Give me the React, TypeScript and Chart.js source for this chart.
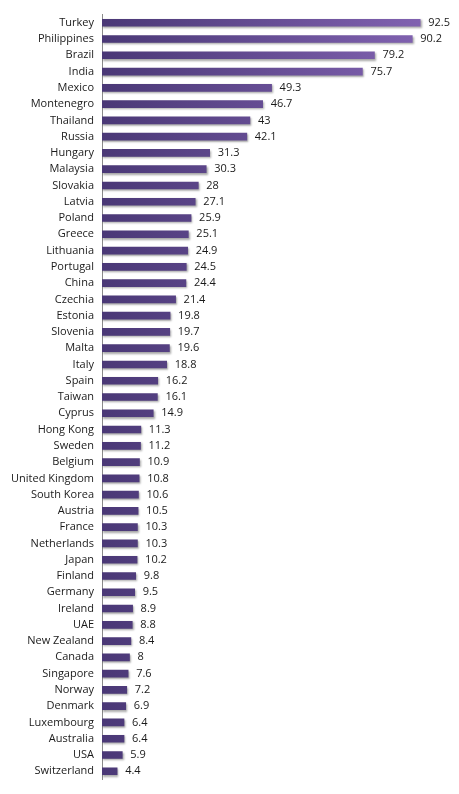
import React, { useEffect, useRef } from "react";
import { Chart, registerables } from "chart.js";

Chart.register(...registerables);

const countries = [
  "Turkey", "Philippines", "Brazil", "India", "Mexico", "Montenegro", "Thailand", "Russia",
  "Hungary", "Malaysia", "Slovakia", "Latvia", "Poland", "Greece", "Lithuania", "Portugal",
  "China", "Czechia", "Estonia", "Slovenia", "Malta", "Italy", "Spain", "Taiwan", "Cyprus",
  "Hong Kong", "Sweden", "Belgium", "United Kingdom", "South Korea", "Austria", "France",
  "Netherlands", "Japan", "Finland", "Germany", "Ireland", "UAE", "New Zealand", "Canada",
  "Singapore", "Norway", "Denmark", "Luxembourg", "Australia", "USA", "Switzerland",
];

const values = [
  92.5, 90.2, 79.2, 75.7, 49.3, 46.7, 43, 42.1,
  31.3, 30.3, 28, 27.1, 25.9, 25.1, 24.9, 24.5,
  24.4, 21.4, 19.8, 19.7, 19.6, 18.8, 16.2, 16.1, 14.9,
  11.3, 11.2, 10.9, 10.8, 10.6, 10.5, 10.3,
  10.3, 10.2, 9.8, 9.5, 8.9, 8.8, 8.4, 8,
  7.6, 7.2, 6.9, 6.4, 6.4, 5.9, 4.4,
];

const FONT = "'Open Sans', sans-serif";

const valueLabels = {
  id: "valueLabels",
  afterDatasetsDraw(chart: any) {
    const { ctx } = chart;
    const meta = chart.getDatasetMeta(0);
    ctx.save();
    ctx.font = `11px ${FONT}`;
    ctx.fillStyle = "#1a1a1a";
    ctx.textBaseline = "middle";
    ctx.textAlign = "left";
    meta.data.forEach((bar: any, i: number) => {
      ctx.fillText(String(values[i]), bar.x + 8, bar.y);
    });
    ctx.restore();
  },
};

const barShadow = {
  id: "barShadow",
  beforeDatasetDraw(chart: any) {
    const { ctx } = chart;
    ctx.save();
    ctx.shadowColor = "rgba(0,0,0,0.35)";
    ctx.shadowBlur = 2;
    ctx.shadowOffsetX = 1;
    ctx.shadowOffsetY = 1.5;
  },
  afterDatasetDraw(chart: any) {
    chart.ctx.restore();
  },
};

export default function App() {
  const ref = useRef<HTMLCanvasElement>(null);

  useEffect(() => {
    if (!ref.current) return;
    const chart = new Chart(ref.current, {
      type: "bar",
      data: {
        labels: countries,
        datasets: [
          {
            data: values,
            backgroundColor: (c: any) => {
              const area = c.chart.chartArea;
              if (!area) return "#5e4890";
              const g = c.chart.ctx.createLinearGradient(area.left, 0, area.right, 0);
              g.addColorStop(0, "#4a3876");
              g.addColorStop(1, "#8565b5");
              return g;
            },
            borderWidth: 0,
            barThickness: 7,
          },
        ],
      },
      options: {
        indexAxis: "y",
        animation: false,
        responsive: false,
        devicePixelRatio: 1,
        layout: { padding: { top: 11, bottom: 13, right: 13, left: 0 } },
        plugins: {
          legend: { display: false },
          tooltip: { enabled: false },
        },
        scales: {
          x: {
            display: false,
            min: 0,
            max: 100,
          },
          y: {
            grid: { display: false, drawTicks: false },
            border: { display: true, color: "#8a8a8a", width: 1 },
            ticks: {
              padding: 8,
              color: "#1a1a1a",
              font: { family: FONT, size: 11 },
              autoSkip: false,
            },
            afterFit: (scale: any) => {
              scale.width = 102;
            },
          },
        },
      },
      plugins: [barShadow, valueLabels],
    });
    return () => chart.destroy();
  }, []);

  return (
    <div style={{ position: "fixed", left: 0, top: 0, width: 459, height: 794, background: "#fff" }}>
      <canvas ref={ref} width={459} height={794} style={{ width: 459, height: 794 }} />
    </div>
  );
}
